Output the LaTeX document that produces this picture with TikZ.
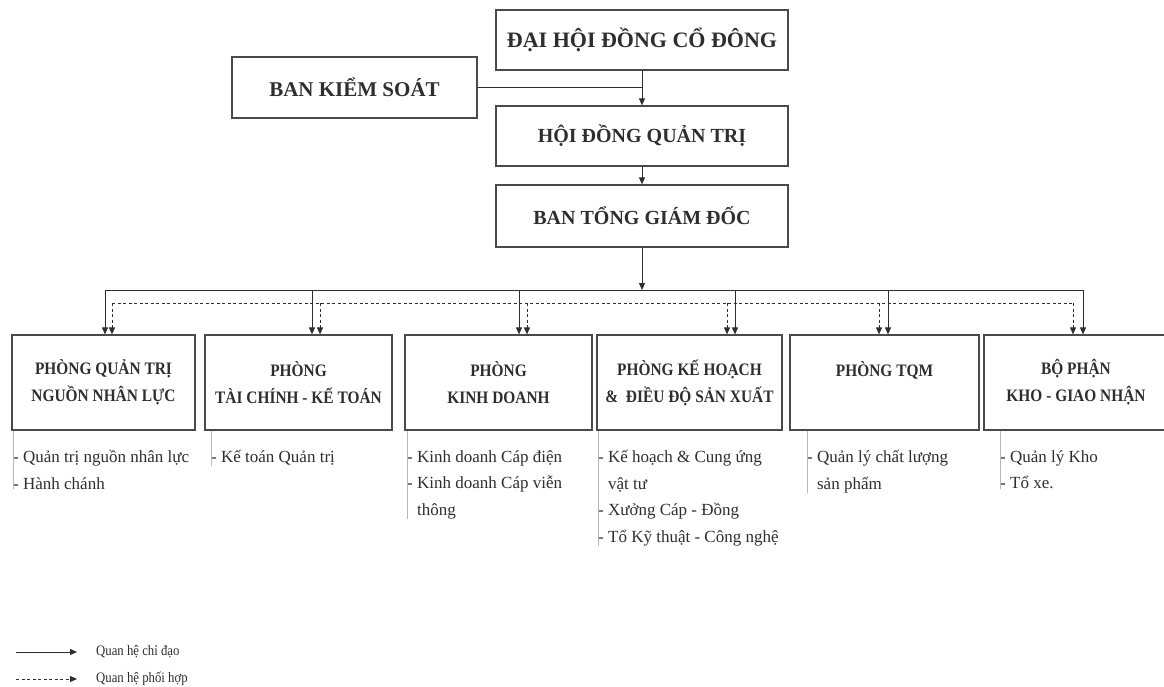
\documentclass[tikz,border=0pt]{standalone}
\usepackage{fontspec}
\setmainfont{Liberation Serif}
\newfontfamily\condserif[FakeStretch=0.88]{Liberation Serif}
\usetikzlibrary{arrows.meta}
\definecolor{ink}{HTML}{2E2E2E}
\definecolor{frame}{HTML}{4A4A4A}
\definecolor{subline}{HTML}{B8B8B8}
\tikzset{
  topbox/.style={draw=frame, line width=1.2pt, minimum width=292pt, minimum height=60pt, inner sep=0pt, text=ink, font=\bfseries\fontsize{20}{24}\selectfont},
  deptbox/.style={draw=frame, line width=1.2pt, minimum height=95pt, inner sep=0pt, align=center, text=ink, font=\condserif\bfseries\fontsize{17.5}{27}\selectfont},
  itemlist/.style={anchor=north west, inner sep=0pt, align=left, text=ink, font=\fontsize{17}{26.5}\selectfont},
  leadarrow/.style={draw=ink, line width=1pt, -{Triangle[length=7pt,width=6pt]}},
  cooparrow/.style={draw=ink, line width=1pt, dash pattern=on 3pt off 2.5pt, -{Triangle[length=7pt,width=6pt]}},
  solidline/.style={draw=ink, line width=1pt},
  coopline/.style={draw=ink, line width=1pt, dash pattern=on 3pt off 2.5pt},
  bracket/.style={draw=subline, line width=0.8pt},
  legendtext/.style={anchor=west, inner sep=0pt, text=ink, font=\condserif\fontsize{14.5}{16}\selectfont}
}
\begin{document}
\begin{tikzpicture}[x=1pt,y=-1pt]
\useasboundingbox[fill=white] (0,0) rectangle (1164,687);

% top boxes
\node[topbox, font=\bfseries\fontsize{22}{26}\selectfont] (dhd) at (642,40) {ĐẠI HỘI ĐỒNG CỔ ĐÔNG};
\node[topbox, minimum width=245pt, minimum height=61pt, font=\bfseries\fontsize{21}{25}\selectfont] (bks) at (354.5,87.5) {BAN KIỂM SOÁT};
\node[topbox] (hdqt) at (642,136) {HỘI ĐỒNG QUẢN TRỊ};
\node[topbox, minimum height=62pt] (tgd) at (642,216) {BAN TỔNG GIÁM ĐỐC};

% departments
\node[deptbox, minimum width=183pt] (d1) at (103.5,382.5) {PHÒNG QUẢN TRỊ\\NGUỒN NHÂN LỰC};
\node[deptbox, minimum width=187pt] (d2) at (298.5,382.5) {PHÒNG\\TÀI CHÍNH - KẾ TOÁN};
\node[deptbox, minimum width=187pt] (d3) at (498.5,382.5) {PHÒNG\\KINH DOANH};
\node[deptbox, minimum width=185pt] (d4) at (689.5,382.5) {PHÒNG KẾ HOẠCH\\\&\ \ ĐIỀU ĐỘ SẢN XUẤT};
\node[deptbox, minimum width=189pt] (d5) at (884.5,382.5) {PHÒNG TQM\\~};
\node[deptbox, minimum width=184pt] (d6) at (1076,382.5) {BỘ PHẬN\\KHO - GIAO NHẬN};

% spine
\coordinate (spine) at (642,290);
\draw[leadarrow] (dhd.south) -- (hdqt.north);
\draw[solidline] (bks.east) -- (bks.east -| dhd.south);
\draw[leadarrow] (hdqt.south) -- (tgd.north);
\draw[leadarrow] (tgd.south) -- (spine);

% solid bus
\coordinate (s1) at (105,290);
\coordinate (s2) at (312,290);
\coordinate (s3) at (519,290);
\coordinate (s4) at (735,290);
\coordinate (s5) at (888,290);
\coordinate (s6) at (1083,290);
\draw[solidline] (s1) -- (s6);
\foreach \i in {1,...,6} \draw[leadarrow] (s\i) -- (d\i.north -| s\i);

% dashed bus
\coordinate (c1) at (112,303);
\coordinate (c2) at (320,303);
\coordinate (c3) at (527,303);
\coordinate (c4) at (727,303);
\coordinate (c5) at (879,303);
\coordinate (c6) at (1073,303);
\draw[coopline] (c1) -- (c6);
\foreach \i in {1,...,6} \draw[cooparrow] (c\i) -- (d\i.north -| c\i);

% sub items
\node[itemlist] (i1) at (13,450) {- Quản trị nguồn nhân lực\\- Hành chánh};
\node[itemlist] (i2) at (211,450) {- Kế toán Quản trị};
\node[itemlist] (i3) at (407,450) {- Kinh doanh Cáp điện\\- Kinh doanh Cáp viễn\\\hphantom{-~}thông};
\node[itemlist] (i4) at (598,450) {- Kế hoạch \& Cung ứng\\\hphantom{-~}vật tư\\- Xưởng Cáp - Đồng\\- Tổ Kỹ thuật - Công nghệ};
\node[itemlist] (i5) at (807,450) {- Quản lý chất lượng\\\hphantom{-~}sản phẩm};
\node[itemlist] (i6) at (1000,450) {- Quản lý Kho\\- Tổ xe.};
\foreach \i in {1,...,6} \draw[bracket] (i\i.west |- d\i.south) -- (i\i.south west);

% legend
\coordinate (l1a) at (16,652);
\coordinate (l1b) at (77,652);
\coordinate (l2a) at (16,679);
\coordinate (l2b) at (77,679);
\draw[leadarrow] (l1a) -- (l1b);
\draw[cooparrow] (l2a) -- (l2b);
\node[legendtext] (lt1) at (96,652) {Quan hệ chỉ đạo};
\node[legendtext] (lt2) at (96,679) {Quan hệ phối hợp};
\end{tikzpicture}
\end{document}
